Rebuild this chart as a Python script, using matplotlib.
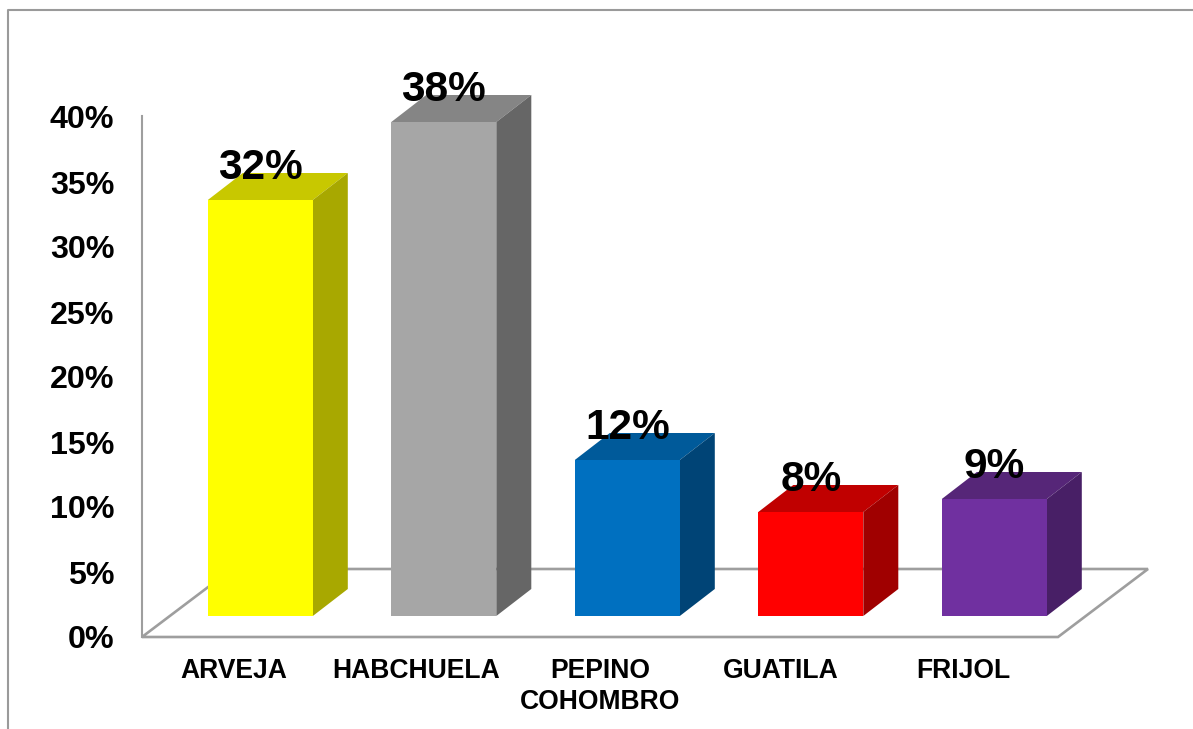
import matplotlib
matplotlib.use("Agg")
import matplotlib.pyplot as plt
from matplotlib.lines import Line2D
from matplotlib.patches import Polygon

plt.rcParams['font.family'] = ['Liberation Sans', 'DejaVu Sans']

categories = ["ARVEJA", "HABCHUELA", "PEPINO\nCOHOMBRO", "GUATILA", "FRIJOL"]
values = [32, 38, 12, 8, 9]
value_labels = ["32%", "38%", "12%", "8%", "9%"]
y_ticks = [0, 5, 10, 15, 20, 25, 30, 35, 40]
front_colors = ["#FFFF00", "#A6A6A6", "#0070C0", "#FF0000", "#7030A0"]
top_colors = ["#C8C800", "#858585", "#005A9A", "#C00000", "#562678"]
side_colors = ["#A8A800", "#666666", "#004476", "#A00000", "#481F66"]

W, H = 1193, 729
GRAY = "#9E9E9E"
# plot box in pixels
L, R, T, B = 142, 1148, 117, 637
STEP = 183.5
PXY = (B - T) / 40          # pixels per percent
X0 = 260.3                  # pixel centre of the first bar

fig = plt.figure(figsize=(W / 100, H / 100), dpi=100, facecolor="white")
ax = fig.add_axes([L / W, 1 - B / H, (R - L) / W, (B - T) / H])
ax.set_xlim((L - X0) / STEP, (R - X0) / STEP)
ax.set_ylim(0, 40)
ax.patch.set_visible(False)

dx = 35 / STEP              # bar depth, x
dy = 27 / PXY               # bar depth, y
base = 21 / PXY             # bars sit this far above the front floor edge
width = 105 / STEP

# floor
fdx = 90 / STEP
fdy = 68 / PXY
xa = (L - X0) / STEP
xb = (1058 - X0) / STEP
ax.add_patch(Polygon([(xa, 0), (xb, 0), (xb + fdx, fdy), (xa + fdx, fdy)], closed=True,
                     facecolor="white", edgecolor=GRAY, lw=1.9, clip_on=False,
                     joinstyle="miter", zorder=1))

# bars
xs = list(range(len(values)))
ax.bar(xs, values, width=width, bottom=base, color=front_colors, zorder=3, clip_on=False)
for x, v, tc, sc in zip(xs, values, top_colors, side_colors):
    l, r = x - width / 2, x + width / 2
    t = base + v
    ax.add_patch(Polygon([(l, t), (r, t), (r + dx, t + dy), (l + dx, t + dy)],
                         facecolor=tc, edgecolor="none", clip_on=False, zorder=2))
    ax.add_patch(Polygon([(r, base), (r + dx, base + dy), (r + dx, t + dy), (r, t)],
                         facecolor=sc, edgecolor="none", clip_on=False, zorder=2))

# value labels
for x, v, s in zip(xs, values, value_labels):
    ax.text(x, v + base + 21 / PXY, s, ha="center", va="baseline", fontsize=30.5,
            fontweight="bold", color="black", zorder=5, clip_on=False)

# axes furniture
for name in ("top", "right", "bottom"):
    ax.spines[name].set_visible(False)
ax.spines["left"].set_color(GRAY)
ax.spines["left"].set_linewidth(1.5)
ax.spines["left"].set_bounds(0, 40.1)
ax.set_yticks(y_ticks)
ax.set_yticklabels([f"{t}%" for t in y_ticks], fontsize=23.2, fontweight="bold")
ax.tick_params(axis="y", length=0, pad=20)
label_shift_px = [27, 27.5, 26.8, 29.6, 30.5]
ax.set_xticks([x - s / STEP for x, s in zip(xs, label_shift_px)])
ax.set_xticklabels(categories, fontsize=19.1, fontweight="bold", linespacing=1.25)
ax.tick_params(axis="x", length=0, pad=15)

# outer frame: left and top edges only
fig.add_artist(Line2D([8 / W, 8 / W, 1], [0, 1 - 10 / H, 1 - 10 / H],
                      color="#9A9A9A", lw=1.5, transform=fig.transFigure))

fig.savefig("out.png", dpi=100, facecolor="white")
